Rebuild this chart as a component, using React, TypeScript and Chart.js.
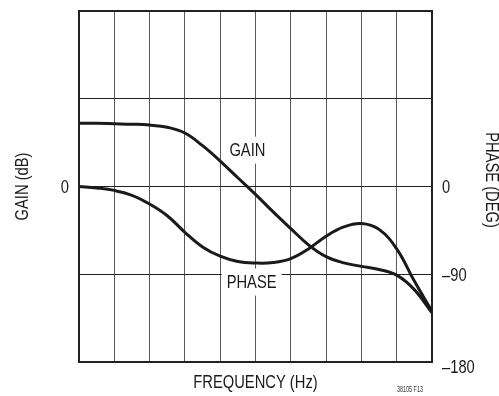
import React, { useEffect, useRef } from "react";
import { Chart, registerables } from "chart.js";

Chart.register(...registerables);

// Frequency positions (decades across the plot, 0..10)
const freqDecades = [0, 0.5, 1, 1.5, 2, 2.5, 3, 3.5, 4, 4.5, 5, 5.5, 6, 6.5, 7, 7.5, 8, 8.5, 9, 9.5, 10];
// Gain (dB, arbitrary scale, 20 dB per division)
const gainDb = [14.4, 14.4, 14.3, 14.2, 14.0, 13.5, 12.2, 9.3, 5.8, 2.0, -1.8, -5.8, -9.6, -13.3, -16.0, -17.4, -18.2, -18.9, -20.2, -23.5, -28.8];
// Phase (degrees)
const phaseDeg = [0, -1.5, -4, -9, -18, -30, -47, -62, -71.5, -77, -78.5, -78, -74, -64, -51, -41.5, -38, -44, -64, -97, -128];

const gainTickLabels = [{ value: 0, text: "0" }];
const phaseTickLabels = [
  { value: 0, text: "0" },
  { value: -90, text: "\u201390" },
  { value: -180, text: "\u2013180" },
];

const FONT_FAMILY = "'Liberation Sans', Arial, sans-serif";
const CONDENSE = 0.775;

function drawText(
  ctx: CanvasRenderingContext2D,
  text: string,
  x: number,
  y: number,
  opts: { size?: number; align?: CanvasTextAlign; rotate?: number; condense?: number; color?: string } = {}
) {
  const size = opts.size ?? 19;
  const condense = opts.condense ?? CONDENSE;
  ctx.save();
  ctx.translate(x, y);
  if (opts.rotate) ctx.rotate(opts.rotate);
  ctx.scale(condense, 1);
  ctx.font = `${size}px ${FONT_FAMILY}`;
  ctx.fillStyle = opts.color ?? "#1a1a1a";
  ctx.textAlign = opts.align ?? "center";
  ctx.textBaseline = "middle";
  ctx.fillText(text, 0, 0);
  ctx.restore();
}

function textWidth(ctx: CanvasRenderingContext2D, text: string, size = 19, condense = CONDENSE) {
  ctx.save();
  ctx.font = `${size}px ${FONT_FAMILY}`;
  const w = ctx.measureText(text).width * condense;
  ctx.restore();
  return w;
}

const annotationPlugin = {
  id: "annotations",
  beforeDatasetsDraw(chart: any) {
    const { ctx, chartArea, scales } = chart;
    const x = scales.x;
    const yG = scales.yGain;
    const yP = scales.yPhase;
    ctx.save();

    // Curve labels with white boxes
    const labels = [
      { text: "GAIN", px: x.getPixelForValue(4.77), py: yG.getPixelForValue(8.4) },
      { text: "PHASE", px: x.getPixelForValue(4.89), py: yP.getPixelForValue(-97.5) },
    ];
    for (const l of labels) {
      const w = textWidth(ctx, l.text);
      ctx.fillStyle = "#ffffff";
      ctx.fillRect(l.px - w / 2 - 5, l.py - 13, w + 10, 27);
      drawText(ctx, l.text, l.px, l.py + 1);
    }

    // Frame
    ctx.strokeStyle = "#222";
    ctx.lineWidth = 2;
    ctx.strokeRect(chartArea.left, chartArea.top, chartArea.right - chartArea.left, chartArea.bottom - chartArea.top);

    // Tick labels
    for (const t of gainTickLabels) {
      drawText(ctx, t.text, chartArea.left - 10, yG.getPixelForValue(t.value) + 1, { align: "right" });
    }
    for (const t of phaseTickLabels) {
      const off = t.value === -180 ? 6 : t.value === 0 ? 1 : 2;
      drawText(ctx, t.text, chartArea.right + 10, yP.getPixelForValue(t.value) + off, { align: "left" });
    }

    // Axis titles
    drawText(ctx, "FREQUENCY (Hz)", (chartArea.left + chartArea.right) / 2, chartArea.bottom + 21);
    drawText(ctx, "GAIN (dB)", 23, (chartArea.top + chartArea.bottom) / 2, { rotate: -Math.PI / 2 });
    drawText(ctx, "PHASE (DEG)", 491, 180, { rotate: Math.PI / 2 });

    drawText(ctx, "38105 F13", 410, 390, { size: 9, condense: 0.6, color: "#333" });

    ctx.restore();
  },
};

export default function App() {
  const canvasRef = useRef<HTMLCanvasElement | null>(null);

  useEffect(() => {
    if (!canvasRef.current) return;
    const chart = new Chart(canvasRef.current, {
      type: "line",
      data: {
        datasets: [
          {
            label: "GAIN",
            data: freqDecades.map((f, i) => ({ x: f, y: gainDb[i] })),
            yAxisID: "yGain",
            borderColor: "#1a1a1a",
            borderWidth: 3,
            pointRadius: 0,
            tension: 0.4,
            fill: false,
          },
          {
            label: "PHASE",
            data: freqDecades.map((f, i) => ({ x: f, y: phaseDeg[i] })),
            yAxisID: "yPhase",
            borderColor: "#1a1a1a",
            borderWidth: 3,
            pointRadius: 0,
            tension: 0.4,
            fill: false,
          },
        ],
      },
      options: {
        animation: false,
        responsive: false,
        maintainAspectRatio: false,
        layout: { padding: { left: 79, right: 67, top: 11, bottom: 34 } },
        plugins: { legend: { display: false }, tooltip: { enabled: false } },
        scales: {
          x: {
            type: "linear",
            min: 0,
            max: 10,
            ticks: { display: false, stepSize: 1 },
            grid: { color: "#5a5a5a", lineWidth: 1, drawTicks: false },
            border: { display: false },
          },
          yGain: {
            type: "linear",
            position: "left",
            min: -40,
            max: 40,
            ticks: { display: false, stepSize: 20 },
            grid: { color: "#222", lineWidth: 1, drawTicks: false },
            border: { display: false },
          },
          yPhase: {
            type: "linear",
            position: "right",
            min: -180,
            max: 180,
            ticks: { display: false, stepSize: 90 },
            grid: { display: false, drawTicks: false },
            border: { display: false },
          },
        },
      },
      plugins: [annotationPlugin],
    } as any);
    return () => chart.destroy();
  }, []);

  return (
    <div style={{ position: "absolute", left: 0, top: 0, width: 499, height: 396, background: "#fff" }}>
      <canvas ref={canvasRef} width={499} height={396} style={{ width: 499, height: 396, display: "block" }} />
    </div>
  );
}
